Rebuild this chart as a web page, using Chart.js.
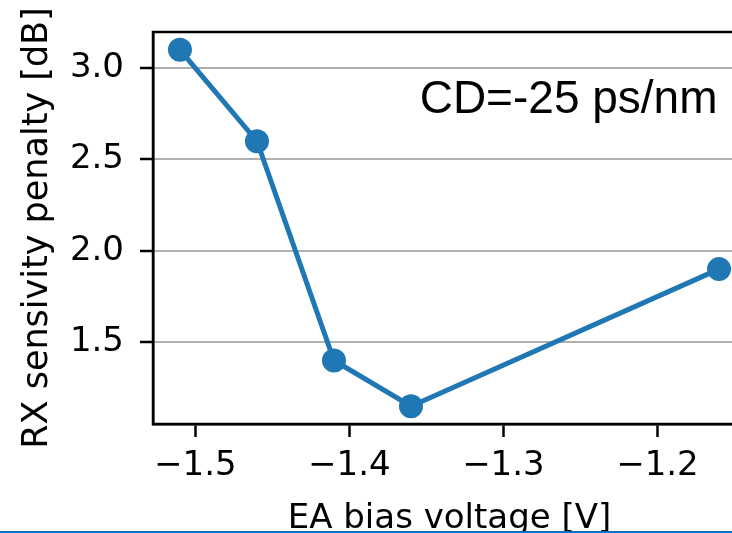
<!DOCTYPE html>
<html>
<head>
<meta charset="utf-8">
<script src="https://cdn.jsdelivr.net/npm/chart.js@4.4.1/dist/chart.umd.min.js"></script>
<style>
  html, body { margin: 0; padding: 0; background: #fff; overflow: hidden; }
  #wrap { position: relative; width: 732px; height: 533px; overflow: hidden; }
  #edge { position: absolute; left: 0; top: 531px; width: 732px; height: 2px; background: #0a6fc2; }
</style>
</head>
<body>
<div id="wrap">
  <canvas id="penaltyChart" width="780" height="533"></canvas>
  <div id="edge"></div>
</div>
<script>
    "use strict";

    // data
    const biasVoltage = [-1.51, -1.46, -1.41, -1.36, -1.16];
    const rxPenalty = [3.1, 2.6, 1.4, 1.15, 1.9];
    const xTickValues = [-1.5, -1.4, -1.3, -1.2];
    const yTickValues = [1.5, 2.0, 2.5, 3.0];
    const noteText = 'CD=-25 ps/nm';
    const noteAt = { x: -1.161, y: 2.755 };

    const lineBlue = '#1f77b4';
    const tickFont = { family: 'DejaVu Sans', size: 34 };

    // matplotlib style 5% margins
    function padRange(arr) {
        const lo = Math.min(...arr), hi = Math.max(...arr);
        const m = (hi - lo) * 0.05;
        return [lo - m, hi + m];
    }
    const [xMin, xMax] = padRange(biasVoltage);
    const [yMin, yMax] = padRange(rxPenalty);

    const fmt = v => (v < 0 ? '\u2212' : '') + Math.abs(v).toFixed(1);

    /*----------------------------------------*/
    /*  frame + text note
    /*----------------------------------------*/
    const framePlugin = {
        id: 'frame',
        afterDatasetsDraw(chart) {
            const { ctx, chartArea: a, scales } = chart;
            ctx.save();
            ctx.strokeStyle = '#000';
            ctx.lineWidth = 2.5;
            ctx.strokeRect(a.left, a.top, a.right - a.left, a.bottom - a.top);
            ctx.fillStyle = '#000';
            ctx.font = '46px "Liberation Sans", Arial, sans-serif';
            ctx.textAlign = 'right';
            ctx.textBaseline = 'alphabetic';
            ctx.fillText(noteText, scales.x.getPixelForValue(noteAt.x), scales.y.getPixelForValue(noteAt.y));
            ctx.restore();
        }
    };

    let penaltyChart = document.getElementById('penaltyChart');
    new Chart(penaltyChart, {
        type: 'line',
        data: {
            datasets: [{
                label: 'RX penalty',
                data: biasVoltage.map((v, i) => ({ x: v, y: rxPenalty[i] })),
                borderColor: lineBlue,
                backgroundColor: lineBlue,
                borderWidth: 5,
                pointRadius: 12,
                pointHoverRadius: 12,
                pointBorderWidth: 0,
                tension: 0
            }]
        },
        plugins: [framePlugin],
        options: {
            responsive: false,
            animation: false,
            devicePixelRatio: 1,
            layout: { padding: { top: 32, right: 34, left: 0, bottom: 0 } },
            plugins: { legend: { display: false }, tooltip: { enabled: false } },
            scales: {
                x: {
                    type: 'linear',
                    min: xMin,
                    max: xMax,
                    afterBuildTicks: s => { s.ticks = xTickValues.map(v => ({ value: v })); },
                    afterFit: s => { s.height = 109; s.paddingLeft = 0; s.paddingRight = 0; },
                    grid: { drawOnChartArea: false, drawTicks: true, tickLength: 13, tickWidth: 2.5, tickColor: '#000' },
                    border: { color: '#000', width: 2.5 },
                    ticks: { font: tickFont, color: '#000', padding: 9, maxRotation: 0, autoSkip: false, callback: v => fmt(v) },
                    title: {
                        display: true,
                        text: 'EA bias voltage [V]',
                        color: '#000',
                        font: { family: 'DejaVu Sans', size: 34, lineHeight: 1 },
                        padding: { top: 0, bottom: -3 }
                    }
                },
                y: {
                    type: 'linear',
                    min: yMin,
                    max: yMax,
                    afterBuildTicks: s => { s.ticks = yTickValues.map(v => ({ value: v })); },
                    afterFit: s => { s.width = 153; s.paddingTop = 0; s.paddingBottom = 0; },
                    grid: { color: '#b0b0b0', lineWidth: 2, drawTicks: true, tickLength: 13, tickWidth: 2.5, tickColor: '#000' },
                    border: { color: '#000', width: 2.5 },
                    ticks: { font: tickFont, color: '#000', padding: 16, callback: v => v.toFixed(1) },
                    title: {
                        display: true,
                        text: 'RX sensivity penalty [dB]',
                        color: '#000',
                        font: { family: 'DejaVu Sans', size: 35, lineHeight: 1 },
                        padding: { top: 20, bottom: 0 }
                    }
                }
            }
        }
    });
</script>
</body>
</html>
